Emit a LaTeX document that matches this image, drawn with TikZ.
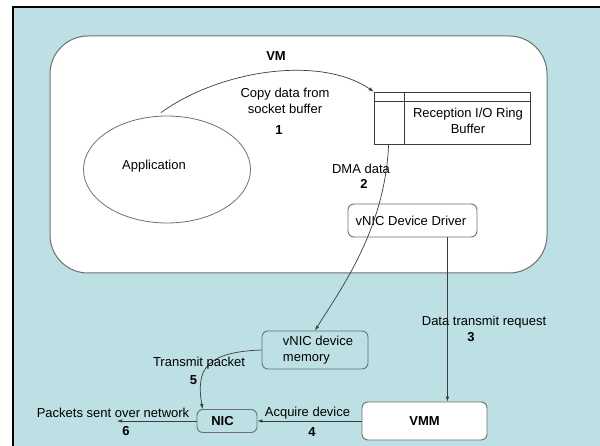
\documentclass[tikz,border=0pt]{standalone}
\usepackage{fontspec}
\setmainfont{Liberation Sans}
\usetikzlibrary{arrows.meta,shapes.geometric}

\definecolor{panel}{RGB}{188,224,227}
\definecolor{edge}{RGB}{112,112,112}
\definecolor{wire}{RGB}{60,60,60}

\begin{document}
\begin{tikzpicture}[x=1pt,y=-1pt,
  font=\fontsize{13}{16}\selectfont,
  lbl/.style={inner sep=0pt, align=center},
  num/.style={inner sep=0pt, font=\fontsize{13}{16}\selectfont\bfseries},
  boxs/.style={draw=edge, line width=0.9pt, rounded corners=6pt, inner sep=0pt},
  flow/.style={draw=wire, line width=0.7pt, -{Latex[length=5pt,width=3.6pt]}}]

% page frame
\useasboundingbox (0,0) rectangle (600,446);
\fill[panel] (13,7) rectangle (600,446);
\draw[line width=2pt] (13,446) -- (13,7) -- (600,7);

% virtual machine container
\node[boxs, rounded corners=38pt, line width=1pt, fill=white,
      minimum width=497pt, minimum height=237pt] (vm) at (298.5,154.5) {};
\node[lbl, font=\fontsize{13}{16}\selectfont\bfseries] (vmlabel) at (276,56) {VM};

% application
\node[draw=edge, line width=0.8pt, ellipse, inner sep=0pt,
      minimum width=167pt, minimum height=107pt] (app) at (167,169.5) {};
\node[lbl] (apptext) at (154,166) {Application};

% reception ring buffer
\node[draw=wire, line width=0.8pt, fill=white, inner sep=0pt,
      minimum width=156pt, minimum height=52pt] (ring) at (452,118) {};
\draw[wire, line width=0.8pt] ([yshift=-10pt]ring.north west) -- ([yshift=-10pt]ring.north east);
\draw[wire, line width=0.8pt] ([xshift=31pt]ring.north west) -- ([xshift=31pt]ring.south west);
\node[lbl] (ringtext) at (468,121) {Reception I/O Ring\\Buffer};

% driver, device memory, VMM, NIC
\node[boxs, fill=white, minimum width=129pt, minimum height=33pt] (driver) at (412.5,220.5)
      {\hspace*{-3pt}vNIC Device Driver};
\node[boxs, minimum width=106pt, minimum height=38pt, align=left] (mem) at (315,350)
      {\hspace*{6pt}vNIC device\\\hspace*{6pt}memory};
\node[boxs, fill=white, minimum width=125pt, minimum height=38pt,
      font=\fontsize{13}{16}\selectfont\bfseries] (vmm) at (424.5,421) {VMM};
\node[boxs, minimum width=60pt, minimum height=23pt,
      font=\fontsize{13}{16}\selectfont\bfseries] (nic) at (227,421) {\hspace*{-9pt}NIC};
\coordinate (wire6) at (117,421);

% data path
\draw[flow] ([shift={(-6pt,3pt)}]app.north)
      .. controls (220,70) and (320,55) .. (ring.north west);
\node[lbl] (lbl1) at (285,101) {Copy data from\\socket buffer};
\node[num] (n1) at (279,130) {1};

\draw[flow] ([xshift=15pt]ring.south west)
      .. controls (385,230) and (340,290) .. (mem.north);
\node[lbl] (lbl2) at (361,169) {DMA data};
\node[num] (n2) at (364,184) {2};

\draw[flow] ([xshift=-30pt]driver.south east) -- ([xshift=-30pt]driver.south east |- vmm.north);
\node[lbl] (lbl3) at (484,322) {Data transmit request};
\node[num] (n3) at (471,337) {3};

\draw[flow] (vmm.west) -- (nic.east);
\node[lbl] (lbl4) at (307.5,413) {Acquire device};
\node[num] (n4) at (312,432) {4};

\draw[flow] (mem.west) .. controls (205,352) and (196,370) .. ([xshift=6pt]nic.north west);
\node[lbl] (lbl5) at (199,363) {Transmit packet};
\node[num] (n5) at (193.5,380) {5};

\draw[flow] (nic.west) -- (wire6);
\node[lbl] (lbl6) at (113,413) {Packets sent over network};
\node[num] (n6) at (126,431) {6};
\end{tikzpicture}
\end{document}
